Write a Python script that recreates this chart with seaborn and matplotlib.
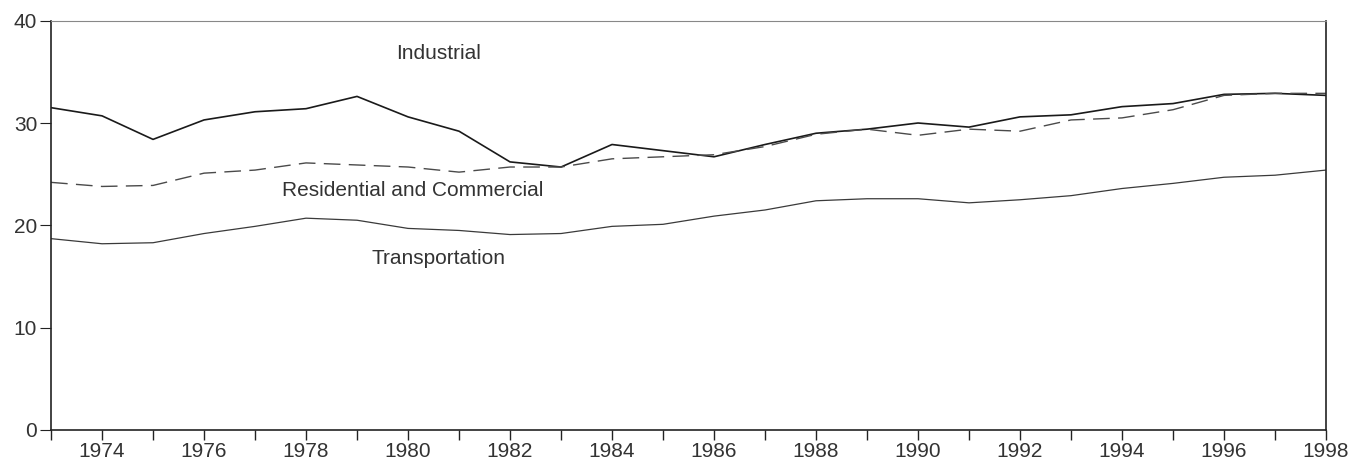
import matplotlib
matplotlib.use("Agg")
import matplotlib.pyplot as plt
import pandas as pd
import seaborn as sns
from matplotlib.ticker import MultipleLocator

years = list(range(1973, 1999))
industrial = [31.5, 30.7, 28.4, 30.3, 31.1, 31.4, 32.6, 30.6, 29.2, 26.2, 25.7, 27.9, 27.3,
              26.7, 27.9, 29.0, 29.4, 30.0, 29.6, 30.6, 30.8, 31.6, 31.9, 32.8, 32.9, 32.7]
residential = [24.2, 23.8, 23.9, 25.1, 25.4, 26.1, 25.9, 25.7, 25.2, 25.7, 25.7, 26.5, 26.7,
               26.9, 27.7, 28.9, 29.4, 28.8, 29.4, 29.2, 30.3, 30.5, 31.3, 32.7, 32.9, 32.9]
transportation = [18.7, 18.2, 18.3, 19.2, 19.9, 20.7, 20.5, 19.7, 19.5, 19.1, 19.2, 19.9, 20.1,
                  20.9, 21.5, 22.4, 22.6, 22.6, 22.2, 22.5, 22.9, 23.6, 24.1, 24.7, 24.9, 25.4]

df = pd.DataFrame({"year": years, "Industrial": industrial,
                   "Residential and Commercial": residential,
                   "Transportation": transportation})

sns.set_style("white")
plt.rcParams["font.family"] = ["Liberation Sans", "DejaVu Sans"]

fig = plt.figure(figsize=(13.68, 4.65), dpi=100)
ax = fig.add_axes([0.0373, 0.0753, 0.932, 0.8802])

sns.lineplot(data=df, x="year", y="Industrial", ax=ax, color="#1a1a1a", linewidth=1.2)
sns.lineplot(data=df, x="year", y="Residential and Commercial", ax=ax, color="#4a4a4a",
             linewidth=1.0, linestyle=(0, (12, 6)))
sns.lineplot(data=df, x="year", y="Transportation", ax=ax, color="#3a3a3a", linewidth=0.9)

# series labels placed inside the plot
lab = dict(ha="center", va="center", fontsize=15, color="#333333")
ax.text(1980.6, 36.8, "Industrial", **lab)
ax.text(1980.1, 23.4, "Residential and Commercial", **lab)
ax.text(1980.6, 16.8, "Transportation", **lab)

ax.set_xlim(1973, 1998)
ax.set_ylim(0, 40)
ax.set_xticks(range(1974, 1999, 2))
ax.xaxis.set_minor_locator(MultipleLocator(1))
ax.set_yticks([0, 10, 20, 30, 40])
ax.set_xlabel("")
ax.set_ylabel("")

for side in ["left", "bottom", "right"]:
    ax.spines[side].set_color("#222222")
    ax.spines[side].set_linewidth(1.2)
ax.spines["top"].set_color("#888888")
ax.spines["top"].set_linewidth(0.8)

ax.tick_params(axis="both", which="both", direction="out", color="#222222",
               labelcolor="#333333", labelsize=15)
ax.tick_params(axis="x", which="both", length=7, width=1, bottom=True, pad=2)
ax.tick_params(axis="y", which="major", length=8, width=0.8, left=True, pad=2)

fig.savefig("out.png", dpi=100)
